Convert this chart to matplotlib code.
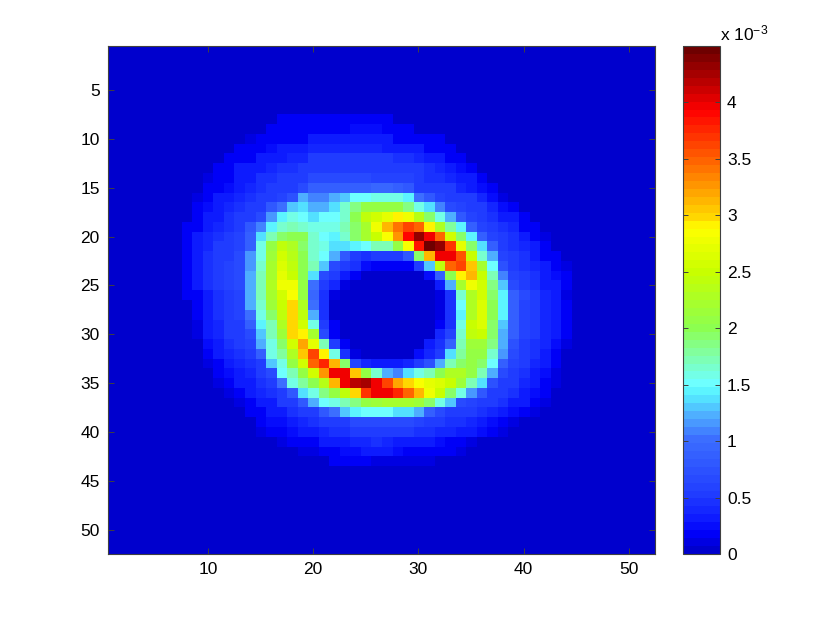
import numpy as np
import matplotlib
matplotlib.use("Agg")
import matplotlib.pyplot as plt
from matplotlib.colors import LinearSegmentedColormap

plt.rcParams['font.family'] = ['Liberation Sans', 'DejaVu Sans']
plt.rcParams['mathtext.default'] = 'regular'

# values in units of 1e-3, each row starts at its first non empty column
row08 = (17, [.15]*11)
row09 = (16, [.15,.15,.2,.2,.2,.2,.2,.2,.25,.25,.25,.15,.15,.15])
row10 = (14, [.1,.2,.2,.2,.2,.2,.3,.3,.3,.3,.3,.3,.3,.3,.2,.2,.2,.15,.15])
row11 = (13, [.15,.2,.2,.25,.3,.3,.35,.4,.4,.4,.4,.4,.4,.4,.35,.35,.35,.35,.2,.15,.15])
row12 = (12, [.15,.2,.2,.3,.35,.35,.4,.4,.5,.5,.5,.5,.5,.5,.5,.5,.45,.45,.4,.35,.3,.2,.15])
row13 = (11, [.15,.2,.3,.35,.35,.4,.45,.45,.5,.5,.55,.55,.55,.55,.5,.5,.5,.5,.5,.5,.45,.4,.35,.25,.15])
row14 = (10, [.1,.15,.2,.3,.35,.45,.45,.5,.5,.55,.65,.65,.65,.65,.7,.65,.6,.6,.6,.6,.55,.45,.45,.4,.35,.3,.15])
row15 = (10, [.15,.2,.25,.35,.4,.45,.5,.5,.55,.7,.85,.85,.9,.9,.9,.9,.95,.95,.85,.8,.55,.5,.5,.5,.4,.35,.25,.15])
row16 = (9, [.1,.2,.3,.35,.4,.45,.5,.55,.6,.75,1.2,1.1,1.1,1.2,1.3,1.5,1.5,1.6,1.6,1.6,1.45,1.0,.8,.6,.55,.5,.5,.4,.25,.1])
row17 = (9, [.15,.25,.35,.4,.45,.5,.55,.8,1.05,1.3,1.4,1.25,1.25,1.4,1.65,1.85,2.1,2.1,2.1,2.1,1.85,1.6,1.4,1.1,.7,.6,.5,.5,.4,.25,.15])
row18 = (9, [.2,.3,.35,.45,.5,.55,.7,1.15,1.45,1.6,1.5,1.4,1.5,1.5,1.65,2.0,2.4,2.6,2.7,2.9,2.8,2.35,1.9,1.55,1.25,.8,.6,.5,.45,.35,.3,.15])
row19 = (8, [.15,.2,.3,.4,.45,.55,.8,1.1,1.45,1.65,1.75,1.65,1.55,1.55,1.55,1.7,1.95,2.2,2.75,3.1,3.4,3.6,3.5,2.9,2.3,1.8,1.45,.85,.6,.5,.45,.4,.2,.15])
row20 = (8, [.15,.3,.4,.45,.5,.6,.85,1.4,1.7,1.95,2.0,2.0,1.65,1.5,1.45,1.65,1.95,2.2,2.5,2.85,3.25,3.9,4.3,3.95,3.45,2.55,1.95,1.45,.9,.6,.5,.45,.35,.2,.1])
row21 = (8, [.15,.3,.4,.5,.55,.6,.85,1.55,2.05,2.4,2.3,1.95,1.65,1.55,1.4,1.4,1.45,1.5,1.7,1.75,2.1,2.85,3.85,4.45,4.3,3.7,2.7,1.95,1.4,.85,.55,.45,.4,.3,.15])
row22 = (8, [.15,.35,.45,.5,.55,.65,1.15,1.6,2.15,2.6,2.35,2.0,1.65,1.5,1.2,.8,.55,.45,.5,.5,.55,.8,1.9,3.1,4.0,3.95,3.55,2.5,1.65,1.2,.6,.5,.45,.35,.2,.15])
row23 = (8, [.15,.35,.45,.55,.6,.65,1.15,1.65,2.2,2.65,2.4,2.0,1.7,1.3,.7,.55,.45,.25,.15,.15,.15,.2,.5,1.3,2.45,3.45,3.6,3.05,2.2,1.5,.75,.55,.45,.4,.3,.2,.1])
row24 = (8, [.15,.35,.45,.55,.6,.65,1.2,1.7,2.2,2.7,2.5,2.0,1.4,.7,.5,.35,.15,0,0,0,0,0,.05,.25,.85,2.0,2.95,3.15,2.5,1.7,1.1,.6,.5,.45,.35,.25,.15])
row25 = (8, [.2,.3,.45,.55,.6,.65,1.2,1.75,2.3,2.8,2.75,2.05,1.05,.55,.4,.1,0,0,0,0,0,0,0,.05,.35,1.2,2.2,2.8,2.6,1.85,1.3,.7,.55,.45,.35,.3,.2])
row26 = (8, [.15,.2,.35,.45,.5,.6,1.2,1.7,2.2,2.6,2.85,2.05,.95,.45,.1,0,0,0,0,0,0,0,0,0,.1,.45,1.65,2.3,2.55,1.95,1.45,.9,.65,.55,.4,.3,.1])
row27 = (8, [0,.2,.35,.45,.5,.6,1.2,1.65,2.15,2.5,3.0,2.3,1.05,.45,0,0,0,0,0,0,0,0,0,0,.1,.45,1.5,2.3,2.65,2.0,1.45,.9,.6,.5,.4,.3,.15])
row28 = (8, [0,.2,.35,.45,.5,.6,1.0,1.55,1.9,2.4,3.0,2.45,1.25,.45,0,0,0,0,0,0,0,0,0,0,.1,.45,1.45,2.3,2.65,2.0,1.45,.9,.6,.5,.4,.3,.2])
row29 = (8, [0,.1,.3,.4,.5,.55,.85,1.45,1.75,2.3,3.0,2.6,1.55,.5,.2,0,0,0,0,0,0,0,0,0,.15,.45,1.6,2.5,2.65,1.95,1.3,.9,.6,.5,.4,.3,.2])
row30 = (8, [0,.1,.3,.4,.5,.55,.7,1.3,1.7,2.15,3.0,2.95,2.2,.65,.15,0,0,0,0,0,0,0,0,.05,.4,.6,1.65,2.45,2.5,1.9,1.25,.9,.6,.5,.4,.3,.15])
row31 = (8, [0,.05,.25,.35,.45,.5,.6,1.2,1.6,1.95,2.55,3.2,2.7,1.75,.5,.15,0,0,0,0,0,0,0,.3,.45,.9,1.7,2.15,2.15,1.85,1.2,.75,.55,.45,.4,.25,.1])
row32 = (8, [0,0,.15,.3,.4,.45,.5,.9,1.55,1.8,2.25,3.05,3.6,2.9,1.55,.45,.1,0,0,0,0,.05,.25,.4,.55,1.35,1.8,2.1,2.05,1.65,1.15,.7,.5,.45,.35,.2,0])
row33 = (8, [0,0,.1,.2,.35,.4,.45,.55,1.3,1.6,2.05,2.6,3.45,3.75,3.1,1.9,.6,.4,.3,.3,.3,.4,.5,.75,1.25,1.7,1.95,2.1,1.9,1.5,.85,.6,.5,.4,.3,.15,0])
row34 = (8, [0,0,0,.15,.25,.35,.4,.5,.7,1.5,1.75,2.05,2.6,3.3,3.95,3.95,3.05,2.1,1.65,1.25,1.1,1.4,1.55,1.75,2.0,2.3,2.25,2.1,1.7,1.2,.65,.55,.45,.35,.25,.1,0])
row35 = (8, [0,0,0,.1,.2,.3,.35,.45,.5,1.0,1.55,1.8,2.0,2.35,3.1,4.0,4.15,4.25,3.95,3.6,3.2,3.0,2.85,2.7,2.65,2.5,2.15,1.7,1.35,.75,.55,.5,.4,.3,.2,.1,0])
row36 = (8, [0,0,0,0,.1,.2,.3,.4,.45,.55,.8,1.4,1.6,1.85,2.05,2.45,3.0,3.7,3.95,4.0,3.75,3.45,3.15,2.8,2.5,1.95,1.55,1.15,.8,.55,.5,.45,.35,.25,.15,0,0])
row37 = (8, [0,0,0,0,.05,.1,.2,.3,.35,.5,.55,.8,1.25,1.5,1.55,1.7,1.85,2.1,2.15,2.2,2.2,2.2,2.15,1.9,1.55,1.3,.7,.6,.55,.5,.45,.35,.3,.2,.1,0,0])
row38 = (13, [.05,.15,.2,.3,.35,.45,.5,.55,.8,1.0,1.3,1.45,1.5,1.5,1.5,1.4,1.4,1.25,.9,.65,.55,.5,.5,.45,.4,.3,.25,.15,.1])
row39 = (14, [.05,.15,.25,.25,.3,.4,.45,.5,.55,.55,.7,.7,.7,.7,.7,.7,.6,.55,.5,.45,.45,.4,.35,.25,.15,.1,.05])
row40 = (15, [.1,.15,.2,.25,.3,.35,.4,.45,.45,.5,.5,.55,.5,.5,.5,.45,.45,.4,.4,.35,.3,.25,.2,.1])
row41 = (17, [.1,.15,.2,.2,.3,.3,.35,.4,.4,.45,.4,.35,.35,.3,.3,.25,.2,.15,.1,.05])
row42 = (19, [.1,.1,.15,.2,.25,.25,.3,.3,.3,.25,.2,.2,.2,.15,.15,.1])
row43 = (22, [.15,.15,.15,.15,.1,.1,.1,.1,.1,.1])

rows = [row08,row09,row10,row11,row12,row13,row14,row15,row16,row17,row18,row19,
        row20,row21,row22,row23,row24,row25,row26,row27,row28,row29,row30,row31,
        row32,row33,row34,row35,row36,row37,row38,row39,row40,row41,row42,row43]

Z = np.zeros((52, 52))
for i, (first, vals) in enumerate(rows):
    Z[7 + i, first - 1:first - 1 + len(vals)] = vals

vmax = 4.5
# colours
anchors = [(0, (0, 0, 205)), (.15, (0, 0, 250)), (.3, (15, 30, 255)), (.5, (32, 60, 255)),
           (1.0, (60, 110, 255)), (1.2, (78, 170, 255)), (1.4, (85, 240, 255)), (1.5, (110, 255, 255)),
           (1.75, (128, 255, 170)), (2.0, (140, 255, 80)), (2.5, (200, 255, 0)),
           (2.9, (255, 255, 0)), (3.0, (255, 215, 0)), (3.5, (255, 100, 0)),
           (3.95, (255, 0, 0)), (4.5, (110, 0, 0))]
cmap = LinearSegmentedColormap.from_list(
    "jetish", [(v / vmax, tuple(c / 255 for c in col)) for v, col in anchors], N=64)

edge = '#404040'
fig = plt.figure(figsize=(8.3, 6.25), dpi=100)
ax = fig.add_axes([108 / 830, 1 - 554 / 625, 547 / 830, 508 / 625])
cax = fig.add_axes([683 / 830, 1 - 554 / 625, 37 / 830, 508 / 625])

im = ax.imshow(Z, cmap=cmap, vmin=0, vmax=vmax, aspect='auto',
               extent=(0.5, 52.5, 52.5, 0.5), interpolation='nearest')
ax.set_xticks(range(10, 51, 10))
ax.set_yticks(range(5, 51, 5))
ax.tick_params(direction='in', top=True, right=True, length=4, width=0.7,
               color=edge, labelsize=12.5, pad=6)

cb = fig.colorbar(im, cax=cax)
cb.set_ticks([0, .5, 1, 1.5, 2, 2.5, 3, 3.5, 4])
cb.set_ticklabels(['0', '0.5', '1', '1.5', '2', '2.5', '3', '3.5', '4'])
cax.tick_params(direction='in', left=True, right=True, length=3.6, width=0.7,
                color=edge, labelsize=12.5, pad=5)
cb.outline.set_edgecolor(edge)
cb.outline.set_linewidth(0.8)
for s in ax.spines.values():
    s.set_edgecolor(edge)
    s.set_linewidth(0.8)

fig.text(720 / 830, 1 - 40 / 625, r'x 10$^{-3}$', fontsize=12.5, va='baseline')

fig.savefig('out.png', dpi=100)
